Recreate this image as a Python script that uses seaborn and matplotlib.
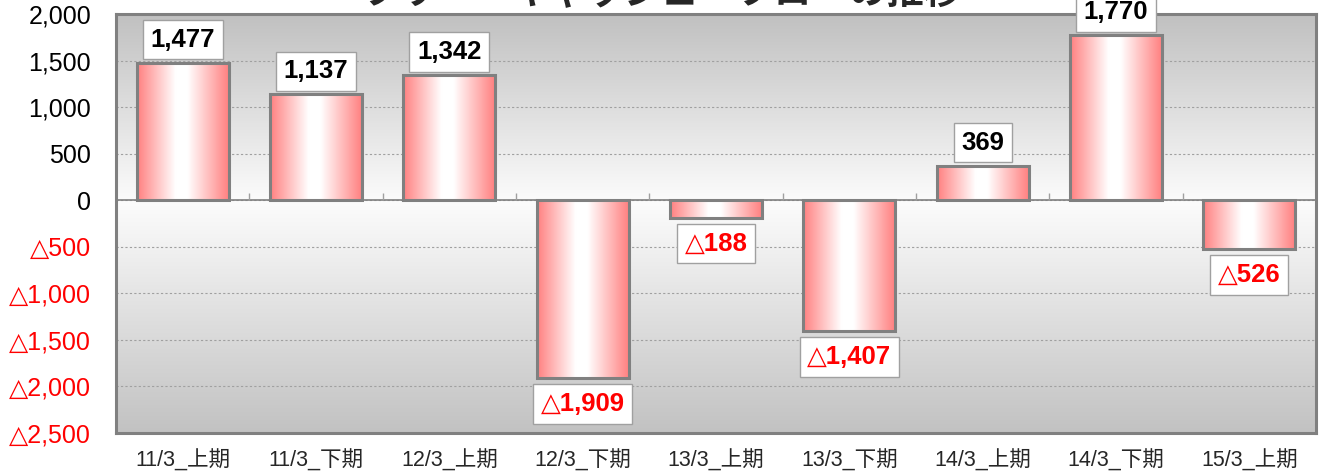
import matplotlib.pyplot as plt
import seaborn as sns
import numpy as np
import pandas as pd
from matplotlib.colors import LinearSegmentedColormap

# Free cash flow per half-year period (negative = outflow)
periods = ['11/3_上期', '11/3_下期', '12/3_上期', '12/3_下期', '13/3_上期',
           '13/3_下期', '14/3_上期', '14/3_下期', '15/3_上期']
fcf = [1477, 1137, 1342, -1909, -188, -1407, 369, 1770, -526]
y_ticks = [2000, 1500, 1000, 500, 0, -500, -1000, -1500, -2000, -2500]
title = 'フリー・キャッシュ・フローの推移'


def fmt(v):
    # Japanese accounting style: negatives shown with a triangle
    return f'{v:,}' if v >= 0 else f'△{-v:,}'


df = pd.DataFrame({'period': periods, 'fcf': fcf})

sns.set_theme(style='white')
plt.rcParams['font.family'] = ['Liberation Sans', 'DejaVu Sans', 'Noto Sans CJK JP']

fig, ax = plt.subplots(figsize=(13.23, 4.73), dpi=100)
fig.subplots_adjust(left=116 / 1323, right=1316 / 1323, top=1 - 14 / 473, bottom=1 - 433 / 473)

sns.barplot(data=df, x='period', y='fcf', ax=ax, width=0.69, color='white',
            saturation=1, edgecolor='#808080', linewidth=2.2, zorder=3)

# horizontal pink-white-pink fill inside each bar
bar_cmap = LinearSegmentedColormap.from_list(
    'bar', [(0, '#ff8080'), (0.42, '#ffffff'), (0.55, '#ffffff'), (1, '#ff8080')])
grad = np.linspace(0, 1, 256).reshape(1, -1)
for p in ax.patches:
    x0, w = p.get_x(), p.get_width()
    y0, y1 = sorted([p.get_y(), p.get_y() + p.get_height()])
    ax.imshow(grad, cmap=bar_cmap, extent=[x0, x0 + w, y0, y1], aspect='auto', zorder=2)
    p.set_facecolor('none')

ax.set_xlim(-0.5, len(periods) - 0.5)
ax.set_ylim(-2500, 2000)

# gray -> white -> gray background
bg_cmap = LinearSegmentedColormap.from_list(
    'bg', [(0, '#c2c2c2'), (0.55, '#fcfcfc'), (1, '#c0c0c0')])
ax.imshow(np.linspace(0, 1, 256).reshape(-1, 1), cmap=bg_cmap, origin='lower',
          extent=[-0.5, len(periods) - 0.5, -2500, 2000], aspect='auto', zorder=0)

ax.set_yticks(y_ticks)
ax.set_yticklabels([fmt(v) for v in y_ticks])
for lab, v in zip(ax.get_yticklabels(), y_ticks):
    lab.set_color('red' if v < 0 else 'black')
ax.tick_params(axis='y', length=0, pad=18, labelsize=18)
ax.tick_params(axis='x', length=0, pad=12, labelsize=15.5)
ax.set_xlabel('')
ax.set_ylabel('')

ax.yaxis.grid(True, linestyle=(0, (2, 2)), color='#a0a0a0', linewidth=0.8, zorder=1)
ax.set_axisbelow(True)
for s in ax.spines.values():
    s.set_color('#808080')
    s.set_linewidth(2.2)

# category axis line at zero with small divider ticks
ax.axhline(0, color='#808080', linewidth=1.2, zorder=1.5)
ax.vlines(np.arange(len(periods) - 1) + 0.5, 0, 75, color='#a0a0a0', linewidth=1, zorder=1.5)

for i, v in enumerate(fcf):
    ax.annotate(fmt(v), xy=(i, v), xytext=(0, 8 if v >= 0 else -10),
                textcoords='offset points', ha='center',
                va='bottom' if v >= 0 else 'top',
                fontsize=18.5, fontweight='bold', color='black' if v >= 0 else 'red',
                bbox=dict(boxstyle='square,pad=0.3', fc='white', ec='#a0a0a0', lw=1),
                annotation_clip=False, zorder=5)

# title sits mostly above the canvas, as in the source image
fig.text(0.5, 1 - 4 / 473, title, ha='center', va='baseline', fontsize=27,
         fontweight='bold', family=['Noto Sans CJK JP'])

fig.savefig('out.png', dpi=100)
